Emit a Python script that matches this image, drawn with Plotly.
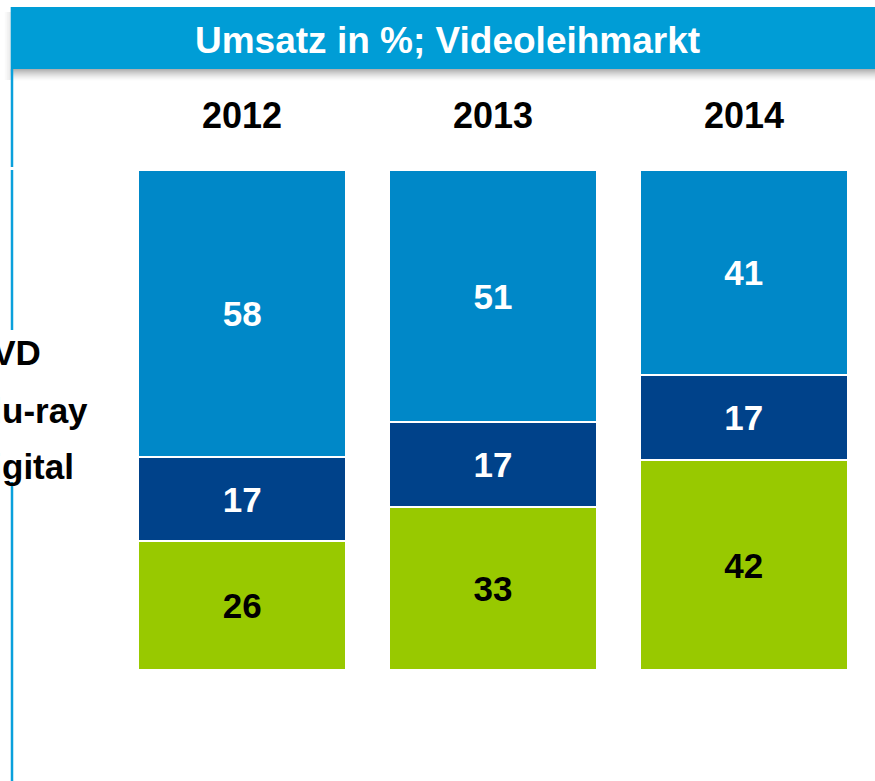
import plotly.graph_objects as go

years = ["2012", "2013", "2014"]
series_names = ["Digital", "Blu-ray", "DVD"]
digital = [26, 33, 42]
bluray = [17, 17, 17]
dvd = [58, 51, 41]
title_text = "Umsatz in %; Videoleihmarkt"

colors = {"DVD": "#0088C8", "Blu-ray": "#00428A", "Digital": "#98C900"}
text_colors = {"DVD": "white", "Blu-ray": "white", "Digital": "black"}
values = {"Digital": digital, "Blu-ray": bluray, "DVD": dvd}

W, H = 875, 781
ML, MR, MT, MB = 117, 6, 170, 111
PW, PH = W - ML - MR, H - MT - MB
FONT = "Liberation Sans, Arial, sans-serif"


def px(x):
    return (x - ML) / PW


def py(y):
    return (H - MB - y) / PH


fig = go.Figure()
for name in series_names:
    fig.add_trace(go.Bar(
        x=years, y=values[name], name=name,
        marker=dict(color=colors[name], line=dict(color="white", width=2)),
        text=[str(v) for v in values[name]],
        textposition="inside", insidetextanchor="middle",
        textfont=dict(family=FONT, size=35, color=text_colors[name], weight="bold"),
        hoverinfo="skip",
    ))

shapes = []
# shadow under title bar
for i in range(12):
    shapes.append(dict(type="rect", xref="paper", yref="paper",
                       x0=px(10.7), x1=px(876), y0=py(69 + i + 1), y1=py(69 + i),
                       line=dict(width=0), fillcolor="rgba(80,80,80,%.3f)" % (0.45 * (1 - i / 12) ** 1.5),
                       layer="below"))
for i in range(6):
    shapes.append(dict(type="rect", xref="paper", yref="paper",
                       x0=px(10.7 - i - 1), x1=px(10.7 - i), y0=py(80), y1=py(12),
                       line=dict(width=0), fillcolor="rgba(80,80,80,%.3f)" % (0.12 * (1 - i / 6)),
                       layer="below"))
# title bar
shapes.append(dict(type="rect", xref="paper", yref="paper",
                   x0=px(10.7), x1=px(876), y0=py(69), y1=py(7),
                   line=dict(width=0), fillcolor="#009DD6"))
# vertical line segments
for a, b in [(69, 167), (170, 330), (482, 782)]:
    shapes.append(dict(type="line", xref="paper", yref="paper",
                       x0=px(12), x1=px(12), y0=py(a), y1=py(b),
                       line=dict(color="#0AA0DC", width=2.5)))

annotations = [dict(text="<b>%s</b>" % title_text, xref="paper", yref="paper",
                    x=px(447), y=py(40), xanchor="center", yanchor="middle", showarrow=False,
                    font=dict(family=FONT, size=37, color="white"))]
for i, yr in enumerate(years):
    annotations.append(dict(text="<b>%s</b>" % yr, xref="x", yref="paper", x=i, y=py(116),
                            xanchor="center", yanchor="middle", showarrow=False,
                            font=dict(family=FONT, size=36, color="black")))
for name, yc in zip(["DVD", "Blu-ray", "Digital"], [352, 410, 466]):
    annotations.append(dict(text="<b>%s</b>" % name, xref="paper", yref="paper", x=px(-35), y=py(yc),
                            xanchor="left", yanchor="middle", showarrow=False,
                            font=dict(family=FONT, size=35, color="black")))

fig.update_layout(
    width=W, height=H, barmode="stack", barnorm="percent", bargap=0.17,
    margin=dict(l=ML, r=MR, t=MT, b=MB, autoexpand=False),
    paper_bgcolor="white", plot_bgcolor="white", showlegend=False,
    xaxis=dict(visible=False, type="category", range=[-0.5, 2.5]),
    yaxis=dict(visible=False, range=[0, 100]),
    uniformtext=dict(mode="show", minsize=10),
    shapes=shapes, annotations=annotations,
)
fig.write_html("out.html", config={"displayModeBar": False},
               post_script="document.body.style.margin='0';document.body.style.overflow='hidden';")
